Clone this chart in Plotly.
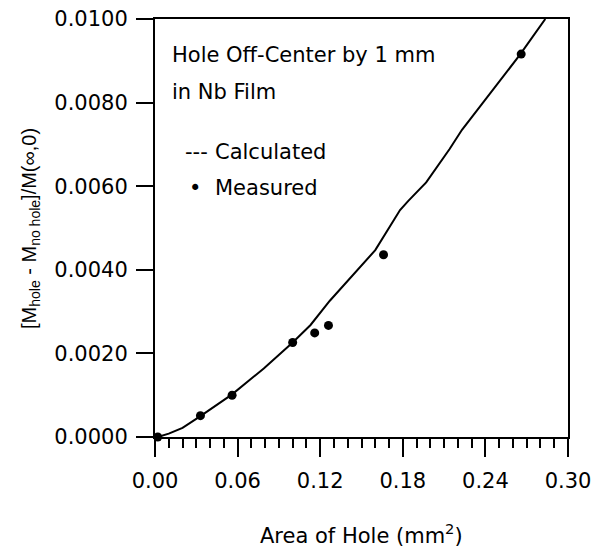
import plotly.graph_objects as go

# Measured data points
meas_x = [0.002, 0.033, 0.056, 0.100, 0.116, 0.126, 0.166, 0.266]
meas_y = [0.0000, 0.00051, 0.00100, 0.00226, 0.00249, 0.00267, 0.00436, 0.00916]

# Calculated curve
calc_x = [0.002, 0.010, 0.020, 0.033, 0.056, 0.079, 0.100, 0.113, 0.127, 0.160,
          0.178, 0.184, 0.197, 0.214, 0.223, 0.265, 0.2835]
calc_y = [0.0000, 0.00008, 0.00022, 0.00050, 0.00102, 0.00164, 0.00226, 0.00268,
          0.00326, 0.00447, 0.00543, 0.00565, 0.00609, 0.00689, 0.00735, 0.00914, 0.0100]

x_ticks = [0.00, 0.06, 0.12, 0.18, 0.24, 0.30]
y_ticks = [0.0000, 0.0020, 0.0040, 0.0060, 0.0080, 0.0100]

FONT = "DejaVu Sans, sans-serif"
FONT_Y = "Liberation Sans, Arial, sans-serif"
FS = 21

fig = go.Figure()
fig.add_trace(go.Scatter(x=calc_x, y=calc_y, mode="lines",
                         line=dict(color="black", width=2), name="Calculated",
                         showlegend=False))
fig.add_trace(go.Scatter(x=meas_x, y=meas_y, mode="markers",
                         marker=dict(color="black", size=9), name="Measured",
                         cliponaxis=False, showlegend=False))

fig.update_layout(
    width=593, height=548,
    margin=dict(l=155, r=25, t=19, b=111, autoexpand=False),
    plot_bgcolor="white", paper_bgcolor="white",
    font=dict(family=FONT, size=FS, color="black"),
    showlegend=False,
)
fig.update_xaxes(
    range=[0, 0.30], tickvals=x_ticks, ticktext=[f"{v:.2f}" for v in x_ticks],
    automargin=False,
    showgrid=False, zeroline=False, showline=True, linecolor="black", linewidth=2,
    mirror=True, ticks="outside", ticklen=18, tickwidth=2, tickcolor="black",
    ticklabelstandoff=6,
    minor=dict(dtick=0.01, tick0=0, ticks="outside", ticklen=9, tickwidth=2,
               tickcolor="black", showgrid=False),
)
fig.update_yaxes(
    range=[0, 0.0100], tickvals=y_ticks, ticktext=[f"{v:.4f}" for v in y_ticks],
    automargin=False,
    showgrid=False, zeroline=False, showline=True, linecolor="black", linewidth=2,
    mirror=True, ticks="outside", ticklen=17, tickwidth=2, tickcolor="black",
    ticklabelstandoff=4,
)

ann = [
    dict(text="Hole Off-Center by 1 mm", x=0.036, y=0.9145, xanchor="left"),
    dict(text="in Nb Film", x=0.036, y=0.8265, xanchor="left"),
    dict(text="---", x=0.068, y=0.6828, xanchor="left"),
    dict(text="Calculated", x=0.140, y=0.6828, xanchor="left"),
    dict(text="•", x=0.097, y=0.5958, xanchor="center"),
    dict(text="Measured", x=0.140, y=0.5958, xanchor="left"),
    dict(text="Area of Hole (mm<sup>2</sup>)", x=0.5, y=-0.233, xanchor="center"),
]
for a in ann:
    fig.add_annotation(xref="paper", yref="paper", yanchor="middle", showarrow=False,
                       font=dict(family=FONT, size=FS, color="black"), **a)

fig.add_annotation(xref="paper", yref="paper", x=-0.3027, y=0.5, xanchor="center",
                   yanchor="middle", textangle=-90, showarrow=False,
                   text="[M<sub>hole</sub> - M<sub>no hole</sub>]/M(∞,0)",
                   font=dict(family=FONT_Y, size=20, color="black"))

fig.write_html("out.html")
